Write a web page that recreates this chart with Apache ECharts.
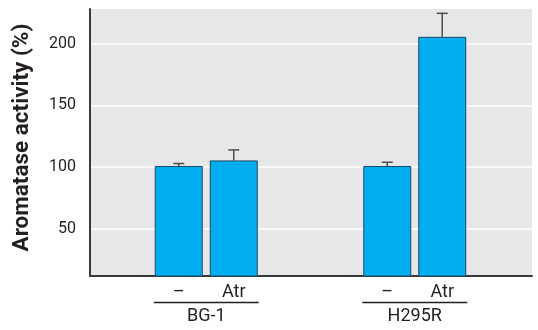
<!DOCTYPE html>
<html>
<head>
<meta charset="utf-8">
<script src="https://cdn.jsdelivr.net/npm/echarts@6/dist/echarts.min.js"></script>
<style>
  html, body { margin: 0; padding: 0; background: #fff; }
  #chart { width: 538px; height: 330px; }
</style>
</head>
<body>
<div id="chart"></div>
<script>
// data
var cells = ['BG-1', 'H295R'];
var treatments = ['–', 'Atr'];
var ctrlValues = [101, 101];
var ctrlUpper = [103, 104];
var atrValues = [105.5, 205.5];
var atrUpper = [114, 224.5];
var yTicks = [50, 100, 150, 200];

var barW = 48, barGapPx = 7;
var off = (barW + barGapPx) / 2;
var fontName = 'Roboto';
var textColor = '#231f20';

function errData(vals, upper) {
  return vals.map(function (v, i) { return [i, upper[i], v]; });
}

function errRender(shift) {
  return function (params, api) {
    var top = api.coord([api.value(0), api.value(1)]);
    var base = api.coord([api.value(0), api.value(2)]);
    var x = top[0] + shift;
    var style = { stroke: '#4d4d4d', lineWidth: 1.5 };
    return {
      type: 'group',
      children: [
        { type: 'line', shape: { x1: x, y1: base[1], x2: x, y2: top[1] }, style: style },
        { type: 'line', shape: { x1: x - 5.5, y1: top[1], x2: x + 5.5, y2: top[1] }, style: style }
      ]
    };
  };
}

var chart = echarts.init(document.getElementById('chart'));

var option = {
  animation: false,
  grid: [
    { left: 90, right: 6, top: 9, bottom: 54, show: true, backgroundColor: '#e6e7e8', borderWidth: 0 },
    { left: 102, right: 19, top: 9, bottom: 54 }
  ],
  xAxis: [
    {
      gridIndex: 0, type: 'value', min: 0, max: 1,
      axisLine: { show: true, lineStyle: { color: '#3a3a3a', width: 2 } },
      axisTick: { show: false }, axisLabel: { show: false }, splitLine: { show: false }
    },
    {
      gridIndex: 1, type: 'category', data: cells,
      axisLine: { show: false }, axisTick: { show: false },
      axisLabel: {
        margin: 6,
        formatter: function (v) {
          return '{t|' + treatments[0] + '}{sp|}{t|' + treatments[1] + '}\n{u|}\n{g|' + v + '}';
        },
        rich: {
          t: { fontFamily: fontName, fontSize: 18, color: textColor, width: barW, align: 'center', lineHeight: 20 },
          sp: { width: barGapPx },
          u: { width: 105, height: 1.3, backgroundColor: '#231f20', lineHeight: 1 },
          g: { fontFamily: fontName, fontSize: 18, color: textColor, lineHeight: 22, padding: [4, 0, 0, 0] }
        }
      }
    }
  ],
  yAxis: [
    {
      gridIndex: 0, type: 'value', min: 12, max: 228,
      name: 'Aromatase activity (%)',
      nameLocation: 'middle', nameGap: 56,
      nameTextStyle: { fontFamily: fontName, fontSize: 22.5, fontWeight: 'bold', color: textColor, padding: [0, 0, 0, 10] },
      axisLine: { show: true, lineStyle: { color: '#3a3a3a', width: 2 } },
      axisTick: { show: false, customValues: yTicks },
      axisLabel: { customValues: yTicks, margin: 14, fontFamily: fontName, fontSize: 16, color: textColor },
      splitLine: { show: true, lineStyle: { color: '#ffffff', width: 1.5 } }
    },
    { gridIndex: 1, type: 'value', min: 12, max: 228, show: false }
  ],
  series: [
    {
      name: treatments[0], type: 'bar', xAxisIndex: 1, yAxisIndex: 1,
      data: ctrlValues, barWidth: barW, barGap: (barGapPx / barW * 100) + '%',
      itemStyle: { color: '#00aeef', borderColor: '#1f4a63', borderWidth: 1 }
    },
    {
      name: treatments[1], type: 'bar', xAxisIndex: 1, yAxisIndex: 1,
      data: atrValues, barWidth: barW,
      itemStyle: { color: '#00aeef', borderColor: '#1f4a63', borderWidth: 1 }
    },
    {
      type: 'custom', xAxisIndex: 1, yAxisIndex: 1, z: 1,
      data: errData(ctrlValues, ctrlUpper), renderItem: errRender(-off)
    },
    {
      type: 'custom', xAxisIndex: 1, yAxisIndex: 1, z: 1,
      data: errData(atrValues, atrUpper), renderItem: errRender(off)
    }
  ]
};

chart.setOption(option);
</script>
</body>
</html>
